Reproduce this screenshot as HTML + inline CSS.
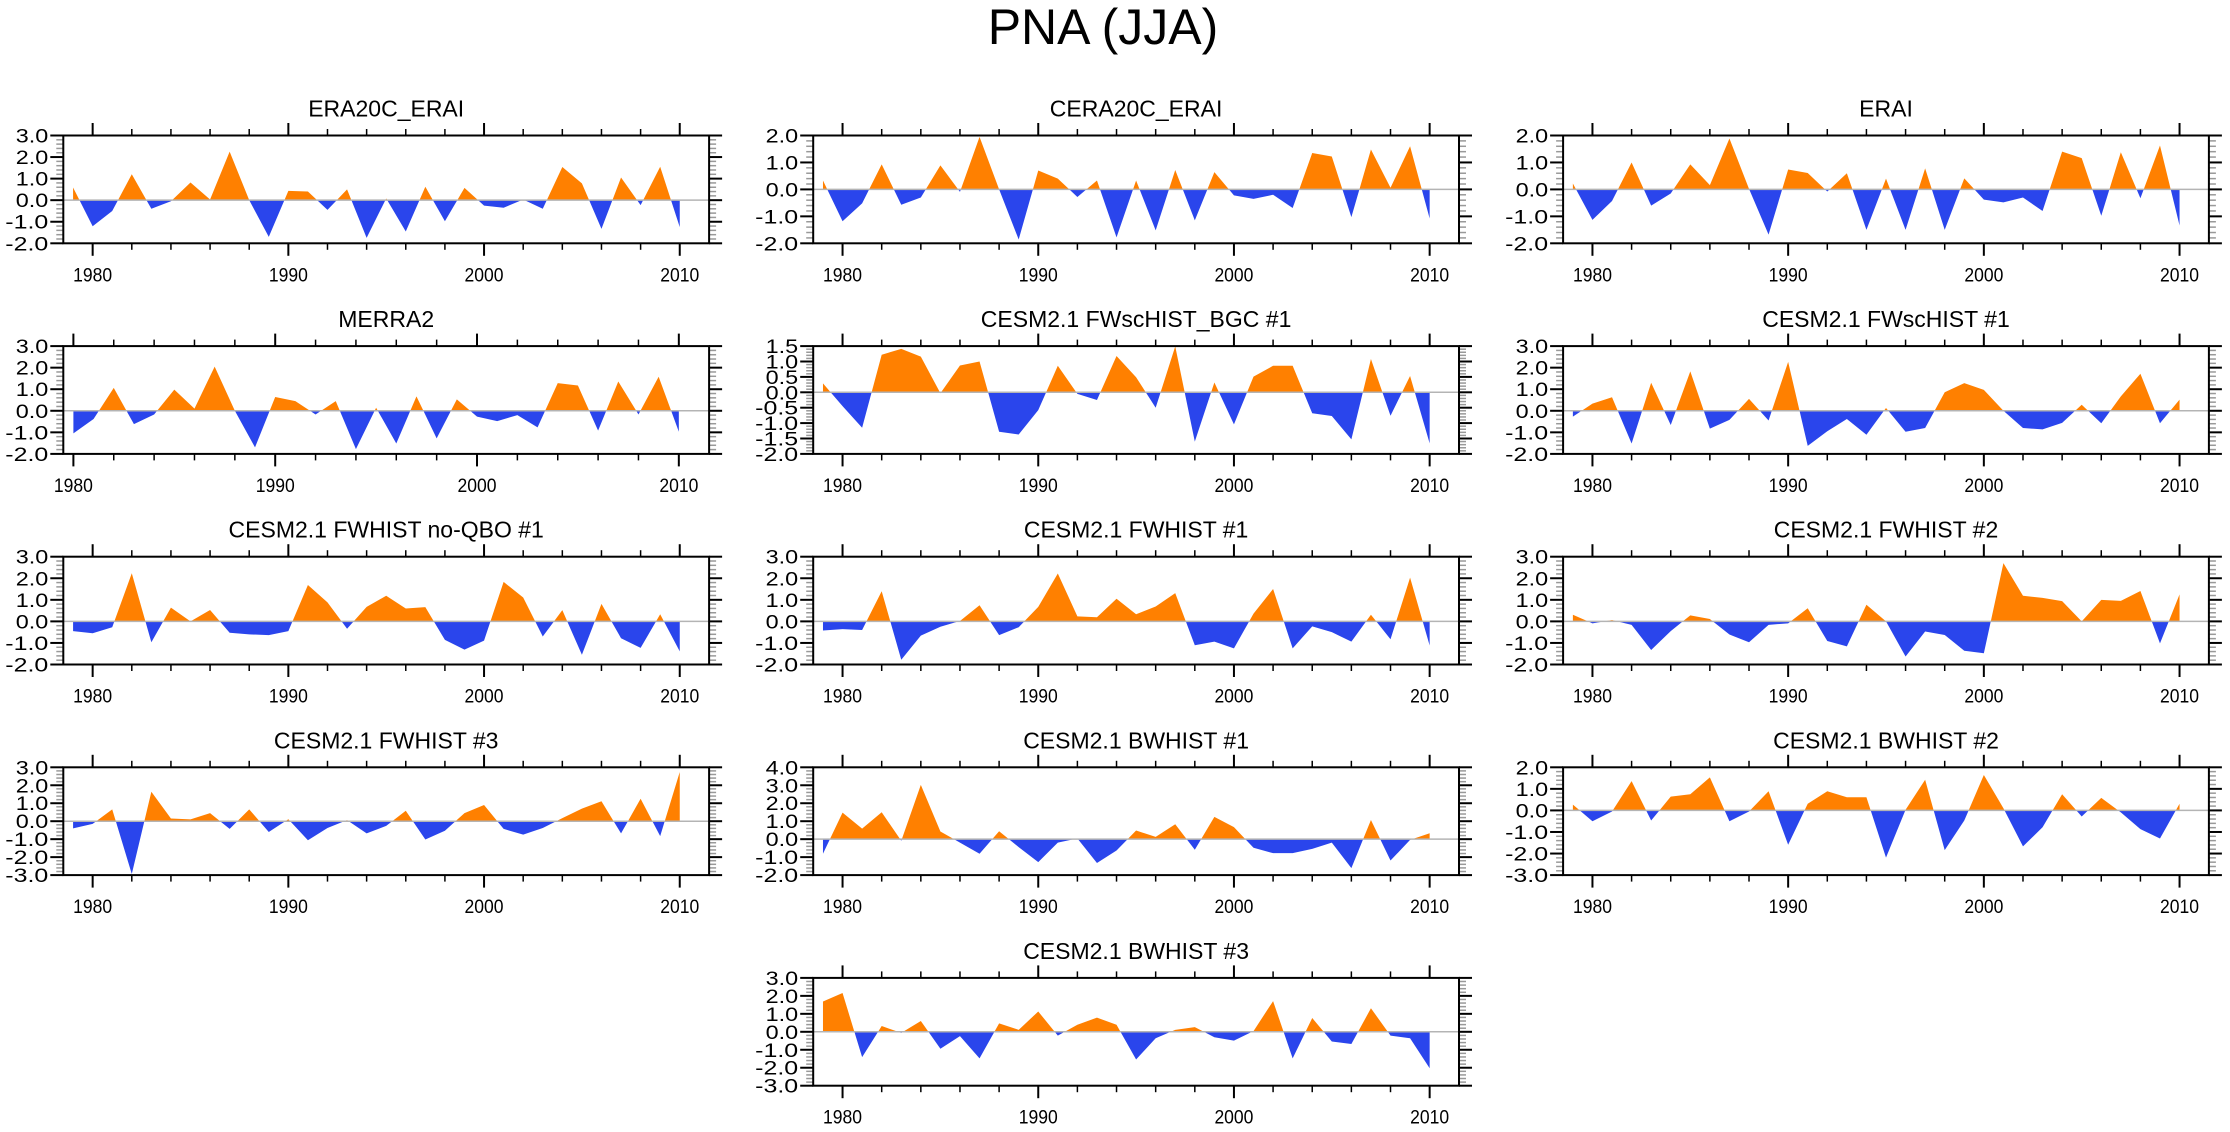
<!DOCTYPE html>
<html><head><meta charset="utf-8"><title>PNA (JJA)</title>
<style>html,body{margin:0;padding:0;background:#fff}svg{display:block}text{font-family:"Liberation Sans",Arial,sans-serif;fill:#000}</style>
</head><body>
<svg id="chart" xmlns="http://www.w3.org/2000/svg" width="2230" height="1132" viewBox="0 0 2230 1132">
<text x="1103" y="44" font-size="50" text-anchor="middle">PNA (JJA)</text>
</svg>
<script>
const panelTitles = ["ERA20C_ERAI","CERA20C_ERAI","ERAI","MERRA2","CESM2.1 FWscHIST_BGC #1","CESM2.1 FWscHIST #1","CESM2.1 FWHIST no-QBO #1","CESM2.1 FWHIST #1","CESM2.1 FWHIST #2","CESM2.1 FWHIST #3","CESM2.1 BWHIST #1","CESM2.1 BWHIST #2","CESM2.1 BWHIST #3"];
const startYears = [1979,1979,1979,1980,1979,1979,1979,1979,1979,1979,1979,1979,1979];
const yMins = [-2,-2,-2,-2,-2,-2,-2,-2,-2,-3,-2,-3,-3];
const yMaxs = [3,2,2,3,1.5,3,3,3,3,3,4,2,3];
const ySteps = [1,1,1,1,0.5,1,1,1,1,1,1,1,1];
const xTickYears = [1980,1990,2000,2010];
const valsERA20C = [0.59,-1.21,-0.5,1.2,-0.4,-0.05,0.82,0.03,2.25,0.0,-1.7,0.43,0.4,-0.45,0.5,-1.75,0.08,-1.45,0.62,-0.98,0.57,-0.25,-0.35,0.03,-0.4,1.54,0.78,-1.33,1.05,-0.23,1.55,-1.25];
const valsCERA20C = [0.33,-1.18,-0.52,0.93,-0.57,-0.3,0.89,-0.09,1.95,0.0,-1.86,0.7,0.4,-0.28,0.33,-1.78,0.33,-1.52,0.72,-1.15,0.64,-0.22,-0.35,-0.2,-0.69,1.35,1.22,-1.03,1.48,0.06,1.6,-1.08];
const valsERAI = [0.22,-1.13,-0.43,1.0,-0.6,-0.15,0.93,0.16,1.89,0.02,-1.68,0.74,0.61,-0.08,0.6,-1.5,0.4,-1.5,0.78,-1.5,0.41,-0.38,-0.48,-0.3,-0.8,1.4,1.16,-0.98,1.38,-0.33,1.63,-1.34];
const valsMERRA2 = [-1.05,-0.38,1.06,-0.62,-0.17,0.98,0.1,2.05,0.0,-1.7,0.64,0.45,-0.17,0.45,-1.78,0.14,-1.52,0.67,-1.28,0.53,-0.27,-0.48,-0.2,-0.77,1.28,1.17,-0.92,1.36,-0.17,1.58,-0.97];
const valsBGC = [0.29,-0.45,-1.15,1.22,1.41,1.16,-0.03,0.87,1.0,-1.28,-1.37,-0.58,0.86,-0.05,-0.25,1.18,0.49,-0.5,1.49,-1.6,0.32,-1.04,0.51,0.86,0.86,-0.68,-0.77,-1.53,1.08,-0.76,0.53,-1.66];
const valsFWscHIST1 = [-0.27,0.33,0.63,-1.52,1.3,-0.66,1.83,-0.83,-0.42,0.55,-0.45,2.27,-1.63,-0.95,-0.38,-1.11,0.13,-0.97,-0.8,0.86,1.28,0.97,0.0,-0.8,-0.86,-0.56,0.28,-0.58,0.67,1.72,-0.58,0.52];
const valsNoQBO1 = [-0.45,-0.55,-0.27,2.23,-0.97,0.64,0.0,0.53,-0.53,-0.6,-0.64,-0.45,1.69,0.88,-0.34,0.67,1.19,0.6,0.66,-0.86,-1.31,-0.89,1.83,1.11,-0.7,0.52,-1.55,0.81,-0.78,-1.23,0.33,-1.39];
const valsFWHIST1 = [-0.42,-0.36,-0.4,1.4,-1.78,-0.66,-0.25,0.02,0.75,-0.64,-0.27,0.67,2.22,0.23,0.19,1.05,0.33,0.69,1.31,-1.11,-0.94,-1.25,0.36,1.5,-1.25,-0.23,-0.5,-0.94,0.31,-0.83,2.03,-1.12];
const valsFWHIST2 = [0.31,-0.09,0.06,-0.16,-1.33,-0.45,0.28,0.11,-0.61,-0.97,-0.16,-0.09,0.61,-0.91,-1.16,0.77,0.0,-1.63,-0.47,-0.63,-1.36,-1.48,2.7,1.19,1.09,0.94,0.0,1.0,0.95,1.41,-1.02,1.25];
const valsFWHIST3 = [-0.4,-0.15,0.66,-2.94,1.64,0.15,0.1,0.45,-0.43,0.66,-0.6,0.11,-1.06,-0.38,0.06,-0.68,-0.26,0.58,-1.02,-0.53,0.45,0.9,-0.43,-0.75,-0.38,0.17,0.7,1.11,-0.68,1.25,-0.83,2.74];
const valsBWHIST1 = [-0.81,1.48,0.59,1.5,-0.09,3.02,0.43,-0.19,-0.81,0.44,-0.44,-1.28,-0.19,0.04,-1.33,-0.63,0.48,0.13,0.83,-0.59,1.24,0.67,-0.48,-0.78,-0.78,-0.54,-0.19,-1.61,1.07,-1.19,-0.04,0.33];
const valsBWHIST2 = [0.27,-0.5,-0.05,1.36,-0.47,0.64,0.75,1.53,-0.5,-0.05,0.89,-1.59,0.31,0.89,0.61,0.61,-2.19,0.03,1.42,-1.84,-0.47,1.64,0.1,-1.67,-0.78,0.75,-0.28,0.58,-0.09,-0.87,-1.3,0.31];
const valsBWHIST3 = [1.69,2.16,-1.41,0.32,-0.06,0.6,-0.94,-0.24,-1.48,0.47,0.11,1.13,-0.21,0.39,0.79,0.39,-1.54,-0.36,0.11,0.26,-0.3,-0.49,0.04,1.71,-1.48,0.77,-0.54,-0.68,1.31,-0.21,-0.36,-2.03];
const allSeries = [valsERA20C,valsCERA20C,valsERAI,valsMERRA2,valsBGC,valsFWscHIST1,valsNoQBO1,valsFWHIST1,valsFWHIST2,valsFWHIST3,valsBWHIST1,valsBWHIST2,valsBWHIST3];

const NS = "http://www.w3.org/2000/svg";
const svg = document.getElementById("chart");
const FRAME_W = 645.8, FRAME_H = 107.8, COL0 = 63.3, COL_DX = 749.9, ROW0 = 135.5, ROW_DY = 210.6;
const panelPos = [[0,0],[0,1],[0,2],[1,0],[1,1],[1,2],[2,0],[2,1],[2,2],[3,0],[3,1],[3,2],[4,1]];
const ORANGE = "#ff8000", BLUE = "#2a45ec";
function mk(tag, attrs, parent){ const e=document.createElementNS(NS,tag); for(const k in attrs) e.setAttribute(k,attrs[k]); (parent||svg).appendChild(e); return e; }

for (let p=0; p<panelTitles.length; p++){
  const [r,c] = panelPos[p];
  const L = COL0 + c*COL_DX, T = ROW0 + r*ROW_DY, R = L+FRAME_W, B = T+FRAME_H;
  const x0 = startYears[p]-0.5, x1 = 2011.5;
  const ymin = yMins[p], ymax = yMaxs[p], step = ySteps[p];
  const xs = yr => L + (yr-x0)/(x1-x0)*FRAME_W;
  const ys = v => B - (v-ymin)/(ymax-ymin)*FRAME_H;
  const g = mk("g",{});
  
  

  const title = mk("text",{x:(L+R)/2,y:T-19,"font-size":23,"text-anchor":"middle"},g);
  title.textContent = panelTitles[p];
  
  

  const vals = allSeries[p];
  const y0 = ys(0);
  const cid = "c"+p;
  const defs = mk("defs",{},g);
  const cpA = mk("clipPath",{id:cid+"a"},defs); mk("rect",{x:L,y:T,width:FRAME_W,height:y0-T},cpA);
  const cpB = mk("clipPath",{id:cid+"b"},defs); mk("rect",{x:L,y:y0,width:FRAME_W,height:B-y0},cpB);
  let pts = [];
  for (let i=0;i<vals.length;i++) pts.push(xs(startYears[p]+i).toFixed(2)+","+ys(vals[i]).toFixed(2));
  const xe = xs(startYears[p]+vals.length-1), xb = xs(startYears[p]);
  const poly = pts.join(" ")+" "+xe.toFixed(2)+","+y0.toFixed(2)+" "+xb.toFixed(2)+","+y0.toFixed(2);
  const pos = mk("polygon",{points:poly,fill:ORANGE,"clip-path":"url(#"+cid+"a)"},g);
  
  
  const neg = mk("polygon",{points:poly,fill:BLUE,"clip-path":"url(#"+cid+"b)"},g);
  
  

  const zl = mk("line",{x1:L,x2:R,y1:y0,y2:y0,stroke:"#b4b4b4","stroke-width":1.5},g);
  
  

  const nMaj = Math.round((ymax-ymin)/step);
  for (let k=0;k<=nMaj;k++){
    const v = ymin + k*step, ty = ys(v);
    mk("line",{x1:L-13,x2:L,y1:ty,y2:ty,stroke:"#000","stroke-width":2},g);
    mk("line",{x1:R,x2:R+13,y1:ty,y2:ty,stroke:"#000","stroke-width":2},g);
    if (k<nMaj) for (let m=1;m<5;m++){
      const my = ys(v+m*step/5);
      mk("line",{x1:L-7,x2:L,y1:my,y2:my,stroke:"#999","stroke-width":1.5},g);
      mk("line",{x1:R,x2:R+7,y1:my,y2:my,stroke:"#999","stroke-width":1.5},g);
    }
    const s = v.toFixed(1);
    const lab = mk("text",{x:L-15,y:ty+7,"font-size":19,"text-anchor":"end",textLength:(10.5*s.length+1),lengthAdjust:"spacingAndGlyphs"},g);
    lab.textContent = s;
    
    
  }
  for (let yr=1980; yr<=2010; yr+=2){
    const tx = xs(yr), major = (yr%10===0);
    const len = major?12.5:6.5;
    mk("line",{x1:tx,x2:tx,y1:T-len,y2:T,stroke:"#000","stroke-width":major?2:1.5},g);
    mk("line",{x1:tx,x2:tx,y1:B,y2:B+len,stroke:"#000","stroke-width":major?2:1.5},g);
  }
  for (const yr of xTickYears){
    const xl = mk("text",{x:xs(yr),y:B+38,"font-size":19,"text-anchor":"middle",textLength:39,lengthAdjust:"spacingAndGlyphs"},g);
    xl.textContent = String(yr);
    
    
  }
  const fr = mk("rect",{x:L,y:T,width:FRAME_W,height:FRAME_H,fill:"none",stroke:"#000","stroke-width":2},g);
  
  
}
</script>
</body></html>
